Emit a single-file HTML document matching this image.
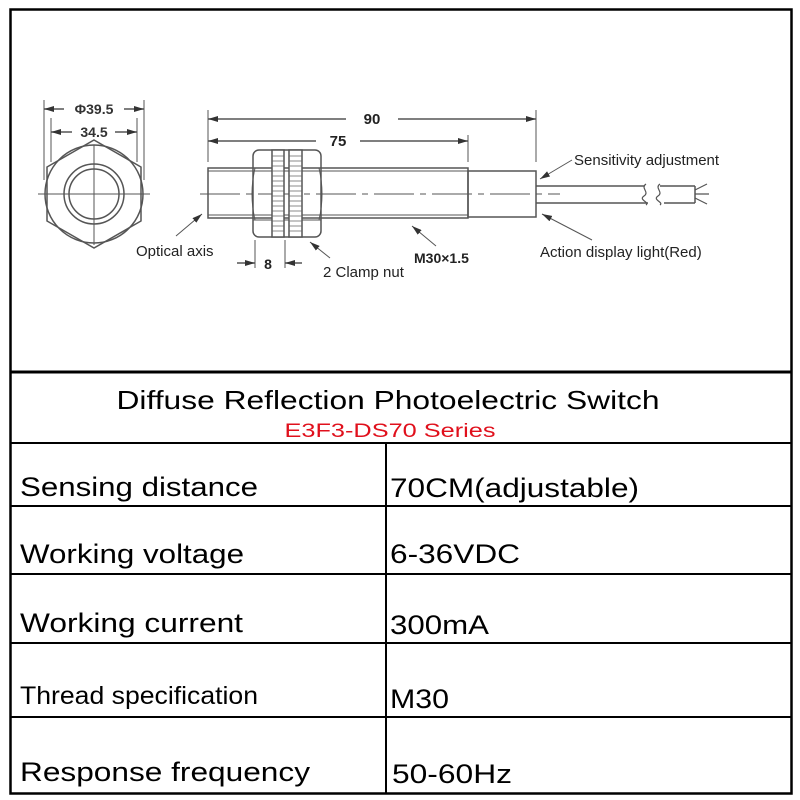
<!DOCTYPE html>
<html><head><meta charset="utf-8"><style>body{margin:0;background:#fff}svg{display:block}</style></head><body>
<svg width="800" height="800" viewBox="0 0 800 800" xmlns="http://www.w3.org/2000/svg" font-family="Liberation Sans, Arial, sans-serif">
<defs>
<marker id="a" viewBox="0 0 10 6" refX="10" refY="3" markerWidth="10" markerHeight="6" orient="auto-start-reverse" markerUnits="userSpaceOnUse"><path d="M0,0L10,3L0,6z" fill="#333"/></marker>
</defs>
<rect x="0" y="0" width="800" height="800" fill="#fff"/>
<rect x="10.5" y="9.5" width="781" height="784" fill="none" stroke="#000" stroke-width="2.5"/>
<line x1="10" y1="372" x2="792" y2="372" stroke="#000" stroke-width="3"/>
<g stroke="#000" stroke-width="2">
<line x1="10" y1="443" x2="792" y2="443"/>
<line x1="10" y1="506" x2="792" y2="506"/>
<line x1="10" y1="574" x2="792" y2="574"/>
<line x1="10" y1="643" x2="792" y2="643"/>
<line x1="10" y1="717" x2="792" y2="717"/>
<line x1="386" y1="443" x2="386" y2="794"/>
</g>
<g stroke="#555" stroke-width="1.5" fill="none">
<circle cx="94" cy="194" r="49"/>
<polygon points="94,140 141,167 141,221 94,248 47,221 47,167"/>
<circle cx="94" cy="194" r="30"/>
<circle cx="94" cy="194" r="25"/>
<line x1="38" y1="194" x2="150" y2="194" stroke-width="1"/>
<line x1="94" y1="145" x2="94" y2="245" stroke-width="1"/>
<line x1="44" y1="100" x2="44" y2="180" stroke-width="1"/>
<line x1="144" y1="100" x2="144" y2="180" stroke-width="1"/>
<line x1="51" y1="118" x2="51" y2="162" stroke-width="1"/>
<line x1="137" y1="118" x2="137" y2="162" stroke-width="1"/>
<line x1="44" y1="109" x2="64" y2="109" marker-start="url(#a)"/>
<line x1="124" y1="109" x2="144" y2="109" marker-end="url(#a)"/>
<line x1="51" y1="132" x2="72" y2="132" marker-start="url(#a)"/>
<line x1="115" y1="132" x2="137" y2="132" marker-end="url(#a)"/>
</g>
<text x="94" y="114" font-size="14" font-weight="bold" text-anchor="middle" fill="#333">Φ39.5</text>
<text x="94" y="137" font-size="14" font-weight="bold" text-anchor="middle" fill="#333">34.5</text>
<g stroke="#555" stroke-width="1.5" fill="none">
<line x1="208" y1="110" x2="208" y2="162" stroke-width="1"/>
<line x1="468" y1="135" x2="468" y2="162" stroke-width="1"/>
<line x1="536" y1="110" x2="536" y2="162" stroke-width="1"/>
<line x1="208" y1="119" x2="346" y2="119" marker-start="url(#a)"/>
<line x1="398" y1="119" x2="536" y2="119" marker-end="url(#a)"/>
<line x1="208" y1="141" x2="316" y2="141" marker-start="url(#a)"/>
<line x1="360" y1="141" x2="468" y2="141" marker-end="url(#a)"/>
<rect x="208" y="168" width="260" height="50"/>
<line x1="208" y1="171" x2="468" y2="171" stroke-width="1"/>
<line x1="208" y1="215" x2="468" y2="215" stroke-width="1"/>
<rect x="468" y="171" width="68" height="46"/>
<line x1="536" y1="186" x2="644" y2="186"/>
<line x1="536" y1="203" x2="648" y2="203"/>
<line x1="660" y1="186" x2="695" y2="186"/>
<line x1="664" y1="203" x2="695" y2="203"/>
<line x1="695" y1="186" x2="695" y2="203"/>
<path d="M646,184c-6,4 4,8 -2,12s6,6 2,9" stroke-width="1.2"/>
<path d="M660,184c-6,4 4,8 -2,12s6,6 2,9" stroke-width="1.2"/>
<path d="M695,190l12,-6M695,194l14,0M695,198l12,6" stroke-width="1.2"/>
<line x1="200" y1="194" x2="560" y2="194" stroke-width="1" stroke-dasharray="40,6,6,6"/>
<rect x="253" y="150" width="68" height="87" rx="6"/>
<path d="M255,168q-6,26 0,52M319,168q6,26 0,52" stroke-width="1"/>
<line x1="253" y1="168" x2="321" y2="168" stroke-width="1"/>
<line x1="253" y1="220" x2="321" y2="220" stroke-width="1"/>
<rect x="272" y="150" width="12" height="87" fill="#fff"/>
<rect x="289" y="150" width="13" height="87" fill="#fff"/>
<line x1="255" y1="240" x2="255" y2="268" stroke-width="1"/>
<line x1="285" y1="240" x2="285" y2="268" stroke-width="1"/>
<line x1="237" y1="263" x2="255" y2="263" marker-end="url(#a)"/>
<line x1="302" y1="263" x2="285" y2="263" marker-end="url(#a)"/>
<line x1="176" y1="236" x2="202" y2="214" stroke-width="1" marker-end="url(#a)"/>
<line x1="330" y1="258" x2="310" y2="242" stroke-width="1" marker-end="url(#a)"/>
<line x1="436" y1="246" x2="412" y2="226" stroke-width="1" marker-end="url(#a)"/>
<line x1="572" y1="160" x2="540" y2="179" stroke-width="1" marker-end="url(#a)"/>
<line x1="592" y1="240" x2="542" y2="214" stroke-width="1" marker-end="url(#a)"/>
</g>
<g stroke="#666" stroke-width="0.8">
<path d="M272,156h12M272,161h12M272,166h12M272,171h12M272,176h12M272,181h12M272,186h12M272,191h12M272,196h12M272,201h12M272,206h12M272,211h12M272,216h12M272,221h12M272,226h12M272,231h12"/>
<path d="M289,156h13M289,161h13M289,166h13M289,171h13M289,176h13M289,181h13M289,186h13M289,191h13M289,196h13M289,201h13M289,206h13M289,211h13M289,216h13M289,221h13M289,226h13M289,231h13"/>
</g>
<g fill="#222">
<text x="372" y="124" font-size="15" font-weight="bold" text-anchor="middle">90</text>
<text x="338" y="146" font-size="15" font-weight="bold" text-anchor="middle">75</text>
<text x="268" y="269" font-size="14" font-weight="bold" text-anchor="middle">8</text>
<text x="136" y="256" font-size="15">Optical axis</text>
<text x="323" y="277" font-size="15">2 Clamp nut</text>
<text x="414" y="263" font-size="14" font-weight="bold">M30×1.5</text>
<text x="574" y="165" font-size="15">Sensitivity adjustment</text>
<text x="540" y="257" font-size="15">Action display light(Red)</text>
</g>
<text x="388" y="409" font-size="26" text-anchor="middle" textLength="543" lengthAdjust="spacingAndGlyphs">Diffuse Reflection Photoelectric Switch</text>
<text x="390" y="437" font-size="19" fill="#e0101c" text-anchor="middle" textLength="211" lengthAdjust="spacingAndGlyphs">E3F3-DS70 Series</text>
<g font-size="27" fill="#000">
<text x="20" y="496" textLength="238" lengthAdjust="spacingAndGlyphs">Sensing distance</text>
<text x="20" y="563" textLength="224" lengthAdjust="spacingAndGlyphs">Working voltage</text>
<text x="20" y="632" textLength="223" lengthAdjust="spacingAndGlyphs">Working current</text>
<text x="20" y="704" font-size="25" textLength="238" lengthAdjust="spacingAndGlyphs">Thread specification</text>
<text x="20" y="781" textLength="290" lengthAdjust="spacingAndGlyphs">Response frequency</text>
<text x="390" y="497" textLength="249" lengthAdjust="spacingAndGlyphs">70CM(adjustable)</text>
<text x="390" y="563" textLength="130" lengthAdjust="spacingAndGlyphs">6-36VDC</text>
<text x="390" y="634" textLength="99" lengthAdjust="spacingAndGlyphs">300mA</text>
<text x="390" y="708" textLength="59" lengthAdjust="spacingAndGlyphs">M30</text>
<text x="392" y="783" textLength="120" lengthAdjust="spacingAndGlyphs">50-60Hz</text>
</g>
</svg>
</body></html>
